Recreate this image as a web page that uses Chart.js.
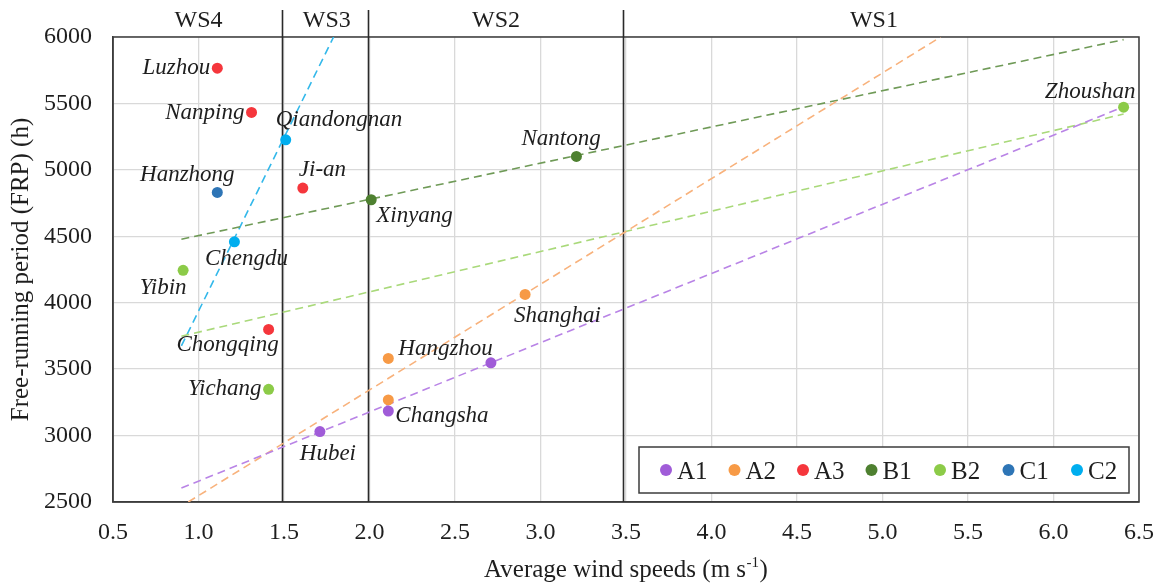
<!DOCTYPE html>
<html>
<head>
<meta charset="utf-8">
<script src="https://cdn.jsdelivr.net/npm/chart.js@4.4.1/dist/chart.umd.min.js"></script>
<style>
  html, body { margin: 0; padding: 0; background: #ffffff; }
  #wrap { width: 1159px; height: 585px; }
</style>
</head>
<body>
<div id="wrap"><canvas id="frpChart" width="1159" height="585"></canvas></div>
<script>
// ---- Data: average wind speed (m/s) vs free-running period (h) per climate group ----
const a1Speed = [1.71, 2.11, 2.71];
const a1Frp   = [3030, 3185, 3548];
const a1Sites = ['Hubei', 'Changsha', ''];

const a2Speed = [2.11, 2.11, 2.91];
const a2Frp   = [3581, 3268, 4062];
const a2Sites = ['Hangzhou', '', 'Shanghai'];

const a3Speed = [1.11, 1.31, 1.61, 1.41];
const a3Frp   = [5765, 5432, 4863, 3799];
const a3Sites = ['Luzhou', 'Nanping', 'Ji-an', 'Chongqing'];

const b1Speed = [2.01, 3.21];
const b1Frp   = [4775, 5101];
const b1Sites = ['Xinyang', 'Nantong'];

const b2Speed = [0.91, 1.41, 6.41];
const b2Frp   = [4244, 3348, 5472];
const b2Sites = ['Yibin', 'Yichang', 'Zhoushan'];

const c1Speed = [1.11];
const c1Frp   = [4830];
const c1Sites = ['Hanzhong'];

const c2Speed = [1.21, 1.51];
const c2Frp   = [4458, 5226];
const c2Sites = ['Chengdu', 'Qiandongnan'];

// Linear trend lines (end points, within the plotted range)
const a1TrendSpeed = [0.9, 6.4];   const a1TrendFrp = [2605, 5470];
const a2TrendSpeed = [0.94, 5.34]; const a2TrendFrp = [2500, 6000];
const b1TrendSpeed = [0.9, 6.41];  const b1TrendFrp = [4478, 5980];
const b2TrendSpeed = [0.9, 6.41];  const b2TrendFrp = [3748, 5420];
const c2TrendSpeed = [0.9, 1.79];  const c2TrendFrp = [3675, 6000];

// Wind-speed classes: divider positions and where each class name sits
const wsDividers   = [1.49, 1.99, 3.48];
const wsNames      = ['WS4', 'WS3', 'WS2', 'WS1'];
const wsNameSpeeds = [1.0, 1.75, 2.74, 4.95];

// Axis ranges
const xRange = [0.5, 6.5];
const yRange = [2500, 6000];

// ---- Styling ----
const SERIF = '"Liberation Serif", "Times New Roman", serif';
const TEXT = '#1e1e1e';
const FRAME = '#3c3c3c';

const pointColor = {
  A1: '#A05CD8', A2: '#F79A46', A3: '#F5363C',
  B1: '#4E8030', B2: '#8CCB48', C1: '#2E75B6', C2: '#00AEEF'
};
const trendColor = {
  A1: '#B984E6', A2: '#F8B27C', B1: '#6F9A57', B2: '#A9D97A', C2: '#33B8EA'
};

// Where each site name sits relative to its marker (px)
const labelPlacement = {
  'Luzhou':      { dx: -7,  dy: 6,   align: 'right' },
  'Nanping':     { dx: -7,  dy: 7,   align: 'right' },
  'Qiandongnan': { dx: -10, dy: -14, align: 'left' },
  'Ji-an':       { dx: -4,  dy: -12, align: 'left' },
  'Hanzhong':    { dx: -30, dy: -11, align: 'center' },
  'Xinyang':     { dx: 5,   dy: 22,  align: 'left' },
  'Chengdu':     { dx: 12,  dy: 23,  align: 'center' },
  'Yibin':       { dx: -20, dy: 24,  align: 'center' },
  'Nantong':     { dx: -55, dy: -11, align: 'left' },
  'Zhoushan':    { dx: 12,  dy: -9,  align: 'right' },
  'Chongqing':   { dx: -41, dy: 22,  align: 'center' },
  'Yichang':     { dx: -7,  dy: 6,   align: 'right' },
  'Hangzhou':    { dx: 10,  dy: -3,  align: 'left' },
  'Changsha':    { dx: 7,   dy: 11,  align: 'left' },
  'Hubei':       { dx: 8,   dy: 28,  align: 'center' },
  'Shanghai':    { dx: -11, dy: 28,  align: 'left' }
};

function toPoints(xs, ys) {
  return xs.map((x, i) => ({ x: x, y: ys[i] }));
}

function siteSet(name, xs, ys, sites) {
  return {
    label: name,
    data: toPoints(xs, ys),
    sites: sites,
    backgroundColor: pointColor[name],
    borderColor: pointColor[name],
    borderWidth: 0,
    pointRadius: 5.5,
    pointHoverRadius: 5.5,
    showLine: false,
    order: 0
  };
}

function trendSet(name, xs, ys) {
  return {
    label: name + ' trend',
    isTrend: true,
    data: toPoints(xs, ys),
    borderColor: trendColor[name],
    backgroundColor: trendColor[name],
    borderWidth: 1.6,
    borderDash: [8, 5],
    pointRadius: 0,
    showLine: true,
    fill: false,
    order: 1
  };
}

const datasets = [
  siteSet('A1', a1Speed, a1Frp, a1Sites),
  siteSet('A2', a2Speed, a2Frp, a2Sites),
  siteSet('A3', a3Speed, a3Frp, a3Sites),
  siteSet('B1', b1Speed, b1Frp, b1Sites),
  siteSet('B2', b2Speed, b2Frp, b2Sites),
  siteSet('C1', c1Speed, c1Frp, c1Sites),
  siteSet('C2', c2Speed, c2Frp, c2Sites),
  trendSet('A1', a1TrendSpeed, a1TrendFrp),
  trendSet('A2', a2TrendSpeed, a2TrendFrp),
  trendSet('B1', b1TrendSpeed, b1TrendFrp),
  trendSet('B2', b2TrendSpeed, b2TrendFrp),
  trendSet('C2', c2TrendSpeed, c2TrendFrp)
];

// Plot frame and the wind-speed class dividers with their names above the plot
const zonePlugin = {
  id: 'zones',
  beforeDatasetsDraw(chart) {
    const { ctx, chartArea: ca, scales } = chart;
    ctx.save();
    ctx.strokeStyle = FRAME;
    ctx.lineWidth = 1.5;
    ctx.strokeRect(ca.left, ca.top, ca.right - ca.left, ca.bottom - ca.top);

    ctx.strokeStyle = '#2a2a2a';
    ctx.lineWidth = 1.6;
    wsDividers.forEach(v => {
      const x = Math.round(scales.x.getPixelForValue(v)) + 0.5;
      ctx.beginPath();
      ctx.moveTo(x, 10);
      ctx.lineTo(x, ca.bottom);
      ctx.stroke();
    });
    ctx.fillStyle = TEXT;
    ctx.font = '24px ' + SERIF;
    ctx.textAlign = 'center';
    ctx.textBaseline = 'alphabetic';
    wsNames.forEach((name, i) => {
      ctx.fillText(name, scales.x.getPixelForValue(wsNameSpeeds[i]), 27);
    });
    ctx.restore();
  }
};

// Site names next to their markers
const siteLabelPlugin = {
  id: 'siteLabels',
  afterDatasetsDraw(chart) {
    const { ctx } = chart;
    ctx.save();
    ctx.fillStyle = TEXT;
    ctx.font = 'italic 23px ' + SERIF;
    ctx.textBaseline = 'alphabetic';
    chart.data.datasets.forEach((ds, di) => {
      if (!ds.sites) return;
      const meta = chart.getDatasetMeta(di);
      meta.data.forEach((pt, i) => {
        const name = ds.sites[i];
        if (!name) return;
        const p = labelPlacement[name] || { dx: 8, dy: -8, align: 'left' };
        ctx.textAlign = p.align;
        ctx.fillText(name, pt.x + p.dx, pt.y + p.dy);
      });
    });
    ctx.restore();
  }
};

// Boxed legend inside the plot, plus the x-axis title with its superscript unit
const legendAndTitlePlugin = {
  id: 'legendAndTitle',
  afterDraw(chart) {
    const { ctx, chartArea: ca } = chart;
    ctx.save();

    const boxRight = ca.right - 10, boxBottom = ca.bottom - 9;
    const boxW = 490, boxH = 46;
    const boxLeft = boxRight - boxW, boxTop = boxBottom - boxH;
    ctx.fillStyle = '#ffffff';
    ctx.fillRect(boxLeft, boxTop, boxW, boxH);
    ctx.strokeStyle = FRAME;
    ctx.lineWidth = 1.5;
    ctx.strokeRect(boxLeft, boxTop, boxW, boxH);

    const items = chart.data.datasets.filter(ds => !ds.isTrend);
    const step = 68.5;
    let mx = boxLeft + 27;
    const my = boxTop + 23;
    ctx.font = '25px ' + SERIF;
    ctx.textAlign = 'left';
    ctx.textBaseline = 'alphabetic';
    items.forEach(ds => {
      ctx.fillStyle = ds.backgroundColor;
      ctx.beginPath();
      ctx.arc(mx, my, 6, 0, Math.PI * 2);
      ctx.fill();
      ctx.fillStyle = TEXT;
      ctx.fillText(ds.label, mx + 11, my + 9);
      mx += step;
    });

    const main = 'Average wind speeds (m s', sup = '-1', tail = ')';
    const mainFont = '25px ' + SERIF, supFont = '15px ' + SERIF;
    ctx.font = mainFont;
    const w1 = ctx.measureText(main).width;
    const w3 = ctx.measureText(tail).width;
    ctx.font = supFont;
    const w2 = ctx.measureText(sup).width + 1;
    const total = w1 + w2 + w3;
    const x0 = (ca.left + ca.right) / 2 - total / 2;
    const base = 577;
    ctx.fillStyle = TEXT;
    ctx.font = mainFont;
    ctx.fillText(main, x0, base);
    ctx.font = supFont;
    ctx.fillText(sup, x0 + w1 + 0.5, base - 10);
    ctx.font = mainFont;
    ctx.fillText(tail, x0 + w1 + w2, base);
    ctx.restore();
  }
};

new Chart(document.getElementById('frpChart'), {
  type: 'scatter',
  data: { datasets: datasets },
  options: {
    responsive: false,
    animation: false,
    events: [],
    layout: { padding: { top: 37, right: 20, bottom: 0, left: 0 } },
    plugins: {
      legend: { display: false },
      tooltip: { enabled: false },
      title: { display: false }
    },
    scales: {
      x: {
        type: 'linear',
        min: xRange[0],
        max: xRange[1],
        afterFit(scale) {
          scale.height = 83;
          // the end tick labels fit inside the outer padding already
          scale.paddingLeft = 0;
          scale.paddingRight = 0;
        },
        ticks: {
          stepSize: 0.5,
          callback: v => Number(v).toFixed(1),
          font: { family: SERIF, size: 24 },
          color: TEXT,
          padding: 16,
          maxRotation: 0
        },
        grid: { color: '#d9d9d9', lineWidth: 1.3, drawTicks: false },
        border: { display: true, color: FRAME, width: 1.5 }
      },
      y: {
        type: 'linear',
        min: yRange[0],
        max: yRange[1],
        afterFit(scale) {
          scale.width = 113;
          scale.paddingTop = 0;
          scale.paddingBottom = 0;
        },
        ticks: {
          stepSize: 500,
          callback: v => String(v),
          font: { family: SERIF, size: 24 },
          color: TEXT,
          padding: 21
        },
        grid: { color: '#d9d9d9', lineWidth: 1.3, drawTicks: false },
        border: { display: true, color: FRAME, width: 1.5 },
        title: {
          display: true,
          text: 'Free-running period (FRP) (h)',
          font: { family: SERIF, size: 25 },
          color: TEXT,
          padding: { top: 6, bottom: 0 }
        }
      }
    }
  },
  plugins: [zonePlugin, siteLabelPlugin, legendAndTitlePlugin]
});
</script>
</body>
</html>
